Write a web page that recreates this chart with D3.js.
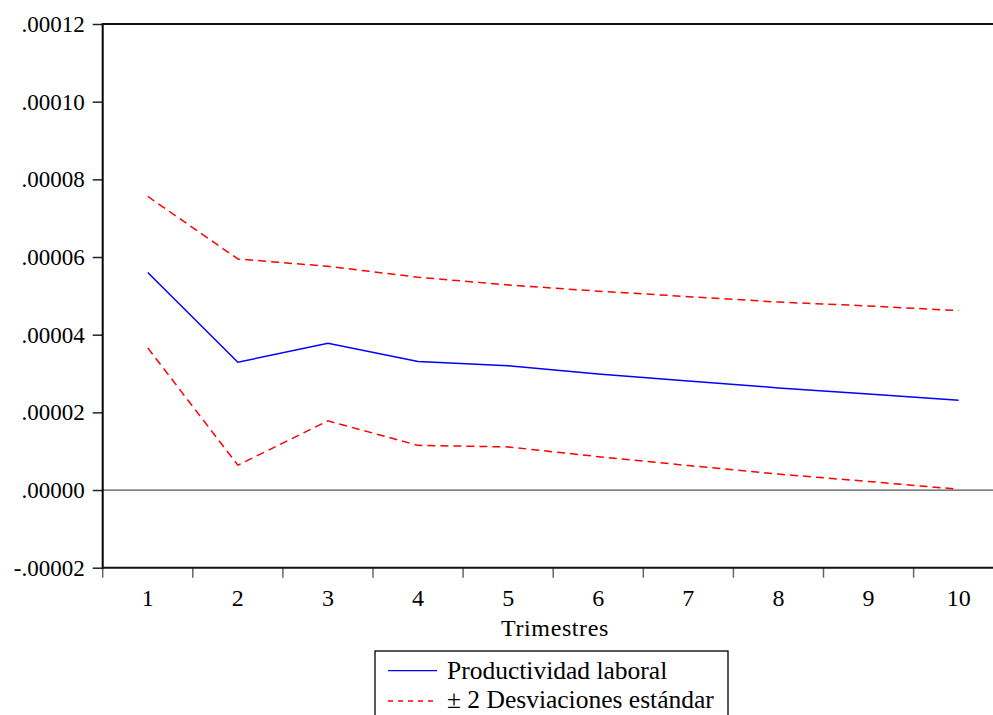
<!DOCTYPE html>
<html>
<head>
<meta charset="utf-8">
<script src="https://cdn.jsdelivr.net/npm/d3@7"></script>
<style>
  html, body { margin: 0; padding: 0; background: #fff; overflow: hidden; }
  svg { display: block; }
  svg text { font-family: 'Liberation Serif', 'Times New Roman', Times, serif !important; fill: #000; }
</style>
</head>
<body>
<svg id="chart" width="993" height="715"></svg>
<script>
// ---- data ----
const periods = [1, 2, 3, 4, 5, 6, 7, 8, 9, 10];
const productividad = [5.60e-5, 3.29e-5, 3.78e-5, 3.31e-5, 3.20e-5, 2.99e-5, 2.81e-5, 2.63e-5, 2.47e-5, 2.31e-5];
const upperBand = [7.56e-5, 5.95e-5, 5.76e-5, 5.48e-5, 5.28e-5, 5.12e-5, 4.98e-5, 4.84e-5, 4.74e-5, 4.62e-5];
const lowerBand = [3.66e-5, 0.64e-5, 1.78e-5, 1.15e-5, 1.11e-5, 0.86e-5, 0.63e-5, 0.41e-5, 0.22e-5, 0.02e-5];
const yTicks = [-0.00002, 0, 0.00002, 0.00004, 0.00006, 0.00008, 0.00010, 0.00012];
const xTitle = "Trimestres";
const legendLabels = ["Productividad laboral", "\u00B1 2 Desviaciones est\u00E1ndar"];

// ---- layout ----
const svg = d3.select("#chart");
const pLeft = 102.7, pRight = 1003.7, pTop = 24, pBottom = 567.7;

const x = d3.scaleBand().domain(periods).range([pLeft, pRight]);
const y = d3.scaleLinear().domain([-0.00002, 0.00012]).range([pBottom, pTop]);
const fmt = v => {
  const s = d3.format(".5f")(Math.abs(v)).replace(/^0\./, ".");
  return (v < 0 ? "-" : "") + s;
};

// zero line
svg.append("line")
  .attr("x1", pLeft).attr("x2", pRight)
  .attr("y1", y(0)).attr("y2", y(0))
  .attr("stroke", "#555").attr("stroke-width", 1.3);

// y axis
const yAxis = svg.append("g")
  .attr("transform", `translate(${pLeft},0)`)
  .call(d3.axisLeft(y).tickValues(yTicks).tickFormat(fmt).tickSize(10).tickPadding(8));
yAxis.select(".domain").remove();
yAxis.selectAll(".tick line").attr("stroke", "#222").attr("stroke-width", 1.5);
yAxis.selectAll(".tick text")
  .attr("font-size", "23px")
  .attr("fill", "#000")
  .attr("dy", "0.32em");

// x axis labels (band centres)
const xAxis = svg.append("g")
  .attr("transform", `translate(0,${pBottom})`)
  .call(d3.axisBottom(x).tickSize(0).tickPadding(21));
xAxis.select(".domain").remove();
xAxis.selectAll(".tick text")
  .attr("font-size", "24px")
  .attr("fill", "#000");

// x boundary ticks
svg.append("g").selectAll("line")
  .data(periods)
  .join("line")
  .attr("x1", d => x(d)).attr("x2", d => x(d))
  .attr("y1", pBottom).attr("y2", pBottom + 10)
  .attr("stroke", "#666").attr("stroke-width", 1.5);

// frame lines: left, top, bottom
svg.append("line").attr("x1", pLeft).attr("x2", pLeft).attr("y1", pTop - 1).attr("y2", pBottom + 1)
  .attr("stroke", "#000").attr("stroke-width", 2);
svg.append("line").attr("x1", pLeft).attr("x2", pRight).attr("y1", pTop).attr("y2", pTop)
  .attr("stroke", "#111").attr("stroke-width", 2);
svg.append("line").attr("x1", pLeft).attr("x2", pRight).attr("y1", pBottom).attr("y2", pBottom)
  .attr("stroke", "#111").attr("stroke-width", 2);

// lines
const line = d3.line()
  .x((d, i) => x(periods[i]) + x.bandwidth() / 2)
  .y(d => y(d));

svg.append("path").datum(upperBand)
  .attr("d", line).attr("fill", "none")
  .attr("stroke", "#ff0000").attr("stroke-width", 1.5).attr("stroke-dasharray", "8,5");
svg.append("path").datum(lowerBand)
  .attr("d", line).attr("fill", "none")
  .attr("stroke", "#ff0000").attr("stroke-width", 1.5).attr("stroke-dasharray", "8,5");
svg.append("path").datum(productividad)
  .attr("d", line).attr("fill", "none")
  .attr("stroke", "#0000ff").attr("stroke-width", 1.5);

// x title
svg.append("text")
  .attr("x", 555).attr("y", 636)
  .attr("text-anchor", "middle")
  .attr("font-size", "24px")
  .attr("letter-spacing", "0.6px")
  .text(xTitle);

// legend
const lg = svg.append("g");
lg.append("rect")
  .attr("x", 375).attr("y", 651)
  .attr("width", 353).attr("height", 90)
  .attr("fill", "#fff").attr("stroke", "#000").attr("stroke-width", 1.3);
lg.append("line").attr("x1", 388).attr("x2", 437).attr("y1", 670.7).attr("y2", 670.7)
  .attr("stroke", "#0000ff").attr("stroke-width", 1.3);
lg.append("line").attr("x1", 388).attr("x2", 437).attr("y1", 701).attr("y2", 701)
  .attr("stroke", "#ff0000").attr("stroke-width", 1.3).attr("stroke-dasharray", "5,5");
lg.append("text").attr("x", 447).attr("y", 679).attr("font-size", "25.5px").text(legendLabels[0]);
lg.append("text").attr("x", 447).attr("y", 708).attr("font-size", "25.5px").text(legendLabels[1]);
</script>
</body>
</html>
